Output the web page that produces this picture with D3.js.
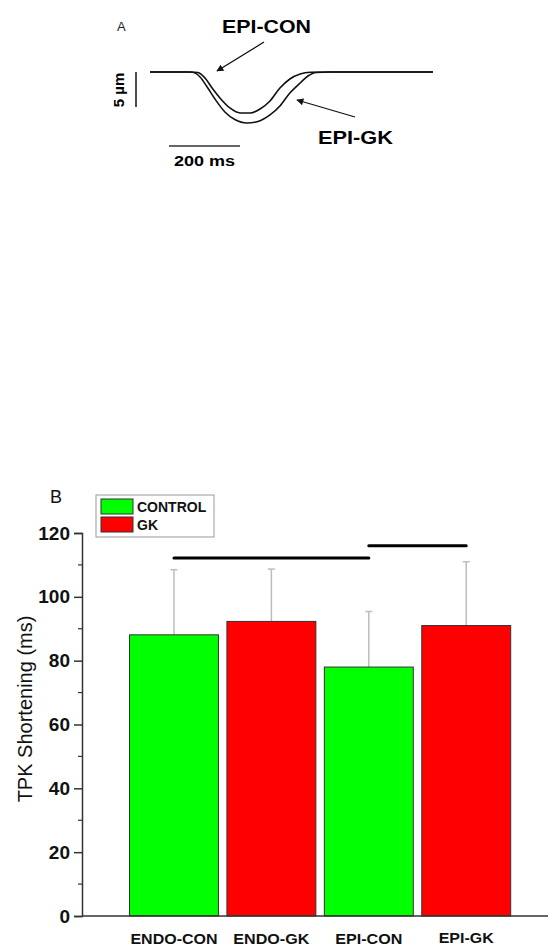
<!DOCTYPE html>
<html>
<head>
<meta charset="utf-8">
<script src="https://cdn.jsdelivr.net/npm/d3@7"></script>
<style>
  html, body { margin: 0; padding: 0; background: #fff; }
  svg { display: block; }
  text { font-family: "Liberation Sans", Arial, Helvetica, sans-serif; }
</style>
</head>
<body>
<svg id="chart" width="552" height="949"></svg>
<script>
// ---------- Panel A data (traces: time in ms, displacement in µm, negative = shortening)
const conTime = [0, 113, 135, 155, 175, 197, 225, 254, 282, 310, 338, 366, 394, 423, 451, 507, 797];
const conDisp = [0, 0, -0.07, -0.86, -2.29, -3.71, -5.14, -5.86, -5.86, -5.29, -4.14, -2.29, -1.0, -0.29, -0.04, 0, 0];
const gkTime = [0, 107, 121, 141, 161, 183, 211, 239, 273, 304, 338, 366, 394, 423, 445, 468, 507, 797];
const gkDisp = [0, 0, -0.04, -0.71, -2.14, -3.86, -5.71, -6.79, -7.29, -7.07, -6.14, -4.86, -3.0, -1.57, -0.57, -0.07, 0, 0];
const scaleBarTime = 200;   // ms
const scaleBarDisp = 5;     // µm

// ---------- Panel B data
const categories = ["ENDO-CON", "ENDO-GK", "EPI-CON", "EPI-GK"];
const groups = ["CONTROL", "GK", "CONTROL", "GK"];
const means = [88.1, 92.3, 78.0, 91.0];
const errTops = [108.5, 108.7, 95.4, 111.0];
const yTicks = [0, 20, 40, 60, 80, 100, 120];
const legendLabels = ["CONTROL", "GK"];
const sigPairs = [["ENDO-CON", "EPI-CON", 112.2], ["EPI-CON", "EPI-GK", 116.0]];

const colors = { "CONTROL": "#00ff00", "GK": "#ff0000" };

const svg = d3.select("#chart");
const font = '"Liberation Sans", Arial, Helvetica, sans-serif';

// ================= PANEL A =================
const ax = d3.scaleLinear().domain([0, 200]).range([150, 221]);
const ay = d3.scaleLinear().domain([0, -5]).range([72, 107]);

const defs = svg.append("defs");
defs.append("marker")
  .attr("id", "arrow")
  .attr("viewBox", "0 0 10 10")
  .attr("refX", 9).attr("refY", 5)
  .attr("markerWidth", 11).attr("markerHeight", 7)
  .attr("markerUnits", "userSpaceOnUse")
  .attr("orient", "auto")
  .append("path").attr("d", "M0,0 L10,5 L0,10 Z").attr("fill", "#111");

const line = d3.line().curve(d3.curveMonotoneX);
const gA = svg.append("g");
gA.append("path")
  .attr("d", line(gkTime.map((t, i) => [ax(t), ay(gkDisp[i])])))
  .attr("fill", "none").attr("stroke", "#111").attr("stroke-width", 1.6);
gA.append("path")
  .attr("d", line(conTime.map((t, i) => [ax(t), ay(conDisp[i])])))
  .attr("fill", "none").attr("stroke", "#111").attr("stroke-width", 1.6);

gA.append("text").text("A").attr("x", 117).attr("y", 31)
  .attr("font-size", 13).attr("fill", "#222");

// vertical scale bar
gA.append("line").attr("x1", 136).attr("x2", 136)
  .attr("y1", ay(0)).attr("y2", ay(-scaleBarDisp))
  .attr("stroke", "#111").attr("stroke-width", 1.5);
gA.append("text").text("5 µm")
  .attr("transform", "translate(124,90) rotate(-90)")
  .attr("text-anchor", "middle").attr("font-size", 15).attr("font-weight", "bold");

// horizontal scale bar
gA.append("line").attr("x1", 169).attr("x2", 169 + (ax(scaleBarTime) - ax(0)))
  .attr("y1", 146).attr("y2", 146)
  .attr("stroke", "#333").attr("stroke-width", 1.5);
gA.append("text").text("200 ms").attr("x", 174).attr("y", 166)
  .attr("font-size", 14).attr("font-weight", "bold")
  .attr("textLength", 61).attr("lengthAdjust", "spacingAndGlyphs");

// labels and arrows
gA.append("text").text("EPI-CON").attr("x", 222).attr("y", 33)
  .attr("font-size", 18).attr("font-weight", "bold")
  .attr("textLength", 89).attr("lengthAdjust", "spacingAndGlyphs");
gA.append("line").attr("x1", 264).attr("y1", 42).attr("x2", 217).attr("y2", 71)
  .attr("stroke", "#111").attr("stroke-width", 1.3).attr("marker-end", "url(#arrow)");

gA.append("text").text("EPI-GK").attr("x", 318).attr("y", 144)
  .attr("font-size", 18).attr("font-weight", "bold")
  .attr("textLength", 75).attr("lengthAdjust", "spacingAndGlyphs");
gA.append("line").attr("x1", 355).attr("y1", 117).attr("x2", 297).attr("y2", 100)
  .attr("stroke", "#111").attr("stroke-width", 1.3).attr("marker-end", "url(#arrow)");

// ================= PANEL B =================
const x = d3.scaleBand().domain(categories).range([129.5, 510.7]).paddingInner(0.087).paddingOuter(0);
const y = d3.scaleLinear().domain([0, 120]).range([916, 533]);
const axisX = 82;

const gB = svg.append("g");

// error bars (behind bars)
const capW = 7;
categories.forEach((c, i) => {
  const cx = x(c) + x.bandwidth() / 2;
  gB.append("line").attr("x1", cx).attr("x2", cx)
    .attr("y1", y(means[i])).attr("y2", y(errTops[i]))
    .attr("stroke", "#bdbdbd").attr("stroke-width", 1.5);
  gB.append("line").attr("x1", cx - capW / 2).attr("x2", cx + capW / 2)
    .attr("y1", y(errTops[i])).attr("y2", y(errTops[i]))
    .attr("stroke", "#bdbdbd").attr("stroke-width", 1.5);
});

// bars
gB.selectAll("rect.bar").data(categories).enter().append("rect")
  .attr("class", "bar")
  .attr("x", d => x(d))
  .attr("y", (d, i) => y(means[i]))
  .attr("width", x.bandwidth())
  .attr("height", (d, i) => y(0) - y(means[i]))
  .attr("fill", (d, i) => colors[groups[i]])
  .attr("stroke", "#333").attr("stroke-width", 1);

// y axis
const yAxis = d3.axisLeft(y).tickValues(yTicks).tickSize(8).tickPadding(4);
const ya = gB.append("g").attr("transform", `translate(${axisX},0)`).call(yAxis);
ya.select(".domain").attr("stroke", "#333").attr("stroke-width", 1.5);
ya.selectAll(".tick line").attr("stroke", "#333").attr("stroke-width", 1.5);
ya.selectAll(".tick text").attr("font-size", 19).attr("font-weight", "bold")
  .attr("font-family", font).attr("fill", "#111");

// minor ticks
const minor = d3.range(10, 120, 20);
gB.selectAll("line.minor").data(minor).enter().append("line")
  .attr("x1", axisX - 4).attr("x2", axisX)
  .attr("y1", d => y(d)).attr("y2", d => y(d))
  .attr("stroke", "#333").attr("stroke-width", 1.2);

// x axis line
gB.append("line").attr("x1", axisX).attr("x2", 548)
  .attr("y1", y(0)).attr("y2", y(0))
  .attr("stroke", "#333").attr("stroke-width", 1.5);

// x labels
const labelWidths = [87, 76, 67, 55];
const labelY = [944, 944, 944, 943];
categories.forEach((c, i) => {
  gB.append("text").text(c)
    .attr("x", x(c) + x.bandwidth() / 2).attr("y", labelY[i])
    .attr("text-anchor", "middle").attr("font-size", 14).attr("font-weight", "bold")
    .attr("fill", "#111")
    .attr("textLength", labelWidths[i]).attr("lengthAdjust", "spacingAndGlyphs");
});

// y label
gB.append("text").text("TPK Shortening (ms)")
  .attr("transform", "translate(32,709) rotate(-90)")
  .attr("text-anchor", "middle").attr("font-size", 20).attr("fill", "#111");

// significance lines
sigPairs.forEach(([a, b, v]) => {
  gB.append("line")
    .attr("x1", x(a) + x.bandwidth() / 2).attr("x2", x(b) + x.bandwidth() / 2)
    .attr("y1", y(v)).attr("y2", y(v))
    .attr("stroke", "#000").attr("stroke-width", 3).attr("stroke-linecap", "round");
});

// panel label
gB.append("text").text("B").attr("x", 50).attr("y", 503).attr("font-size", 18).attr("fill", "#111");

// legend
const lg = gB.append("g");
lg.append("rect").attr("x", 96).attr("y", 495).attr("width", 118).attr("height", 42)
  .attr("fill", "#fff").attr("stroke", "#999").attr("stroke-width", 1);
legendLabels.forEach((l, i) => {
  lg.append("rect").attr("x", 101).attr("y", 499 + i * 18).attr("width", 32).attr("height", 15)
    .attr("fill", colors[l]).attr("stroke", "#333").attr("stroke-width", 1);
  lg.append("text").text(l).attr("x", 137).attr("y", 512 + i * 18)
    .attr("font-size", 14).attr("font-weight", "bold").attr("fill", "#111");
});
</script>
</body>
</html>
